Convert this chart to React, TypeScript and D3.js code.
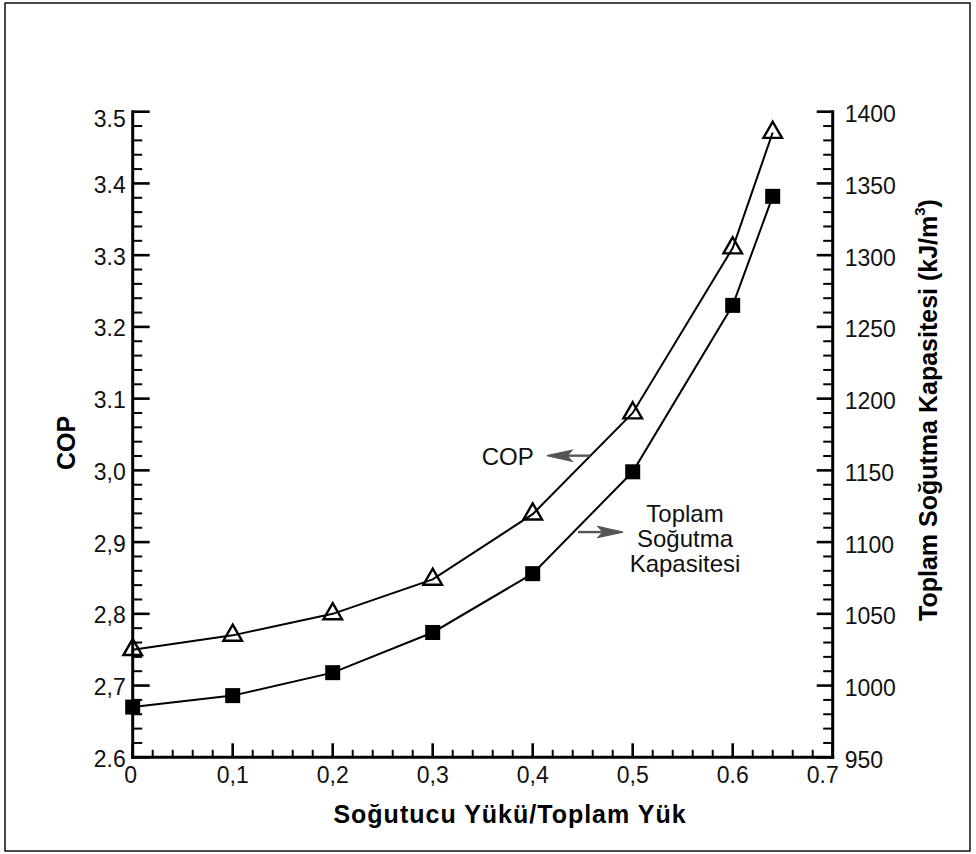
import React from "react";
import * as d3 from "d3";

const loadRatio = [0, 0.1, 0.2, 0.3, 0.4, 0.5, 0.6, 0.64];
const copValues = [2.75, 2.77, 2.8, 2.848, 2.939, 3.08, 3.31, 3.471];
const capacityValues = [985, 993, 1009, 1037, 1078, 1149, 1265, 1341];

const xTickValues = [0, 0.1, 0.2, 0.3, 0.4, 0.5, 0.6, 0.7];
const xTickLabels = ["0", "0,1", "0,2", "0,3", "0,4", "0,5", "0.6", "0.7"];
const yLeftTickValues = [2.6, 2.7, 2.8, 2.9, 3.0, 3.1, 3.2, 3.3, 3.4, 3.5];
const yLeftTickLabels = ["2.6", "2,7", "2,8", "2,9", "3,0", "3.1", "3.2", "3.3", "3.4", "3.5"];
const yRightTickValues = [950, 1000, 1050, 1100, 1150, 1200, 1250, 1300, 1350, 1400];
const yRightTickLabels = ["950", "1000", "1050", "1100", "1150", "1200", "1250", "1300", "1350", "1400"];

const xTitle = "Soğutucu Yükü/Toplam Yük";
const yLeftTitle = "COP";
const yRightTitle = "Toplam Soğutma Kapasitesi (kJ/m";
const copNote = "COP";
const capNoteLines = ["Toplam", "Soğutma", "Kapasitesi"];

const W = 976;
const H = 854;
const left = 132.7;
const right = 832.7;
const top = 111.7;
const bottom = 757.3;
const FONT = "'Liberation Sans', Arial, Helvetica, sans-serif";

export default function App() {
  const x = d3.scaleLinear().domain([0, 0.7]).range([left, right]);
  const yL = d3.scaleLinear().domain([2.6, 3.5]).range([bottom, top]);
  const yR = d3.scaleLinear().domain([950, 1400]).range([bottom, top]);

  const copLine = d3
    .line<number>()
    .x((_, i) => x(loadRatio[i]))
    .y((d) => yL(d));
  const capLine = d3
    .line<number>()
    .x((_, i) => x(loadRatio[i]))
    .y((d) => yR(d));

  const xMinor = d3.range(0, 0.7001, 0.02).filter((v) => Math.abs(v * 10 - Math.round(v * 10)) > 1e-6);
  const yLMinor = d3.range(2.6, 3.5001, 0.02).filter((v) => Math.abs(v * 10 - Math.round(v * 10)) > 1e-6);
  const yRMinor = d3.range(950, 1400.01, 10).filter((v) => v % 50 !== 0);

  const tri = d3.symbol().type(d3.symbolTriangle).size(150)();
  const gray = "#555";

  const arrowHead = (tipX: number, tipY: number, dir: number) => {
    const L = 25;
    const hw = 5.5;
    const back = 20;
    return `M${tipX},${tipY} L${tipX - dir * L},${tipY - hw} L${tipX - dir * back},${tipY} L${tipX - dir * L},${tipY + hw} Z`;
  };

  const copArrowTip = { x: x(0.4143), y: yL(3.0205) };
  const copArrowTail = { x: x(0.4573), y: yL(3.0205) };
  const capArrowTip = { x: x(0.4903), y: yL(2.914) };
  const capArrowTail = { x: x(0.4453), y: yL(2.914) };

  return (
    <svg
      width={W}
      height={H}
      style={{ position: "absolute", left: 0, top: 0, background: "#fff" }}
      fontFamily={FONT}
    >
      <rect x={0} y={0} width={W} height={H} fill="#fff" />
      <rect x={5} y={3} width={965} height={848} fill="none" stroke="#000" strokeWidth={1.4} />

      {/* x axis */}
      <line x1={left - 1.5} x2={right + 1.5} y1={bottom} y2={bottom} stroke="#000" strokeWidth={3} />
      {xTickValues.map((v) => (
        <line key={"xM" + v} x1={x(v)} x2={x(v)} y1={bottom} y2={bottom - 14} stroke="#000" strokeWidth={2.6} />
      ))}
      {xMinor.map((v) => (
        <line key={"xm" + v} x1={x(v)} x2={x(v)} y1={bottom} y2={bottom - 7.5} stroke="#000" strokeWidth={2} />
      ))}
      {xTickValues.map((v, i) => (
        <text
          key={"xl" + v}
          x={x(v) + (i === xTickValues.length - 1 ? -10 : 0) + (i === 0 ? -2 : 0)}
          y={bottom + 26}
          fontSize={23}
          textAnchor="middle"
          fill="#111"
        >
          {xTickLabels[i]}
        </text>
      ))}

      {/* left axis */}
      <line x1={left} x2={left} y1={top - 1.5} y2={bottom + 1.5} stroke="#000" strokeWidth={3} />
      {yLeftTickValues.map((v) => (
        <line key={"lM" + v} x1={left} x2={left + 17} y1={yL(v)} y2={yL(v)} stroke="#000" strokeWidth={2.6} />
      ))}
      {yLMinor.map((v) => (
        <line key={"lm" + v} x1={left} x2={left + 9.5} y1={yL(v)} y2={yL(v)} stroke="#000" strokeWidth={2} />
      ))}
      {yLeftTickValues.map((v, i) => (
        <text
          key={"ll" + v}
          x={left - 7}
          y={yL(v) + 9.5 + (i === yLeftTickValues.length - 1 ? 6 : 0)}
          fontSize={23}
          textAnchor="end"
          fill="#111"
        >
          {yLeftTickLabels[i]}
        </text>
      ))}

      {/* right axis */}
      <line x1={right} x2={right} y1={top - 1.5} y2={bottom + 1.5} stroke="#000" strokeWidth={3} />
      {yRightTickValues.map((v) => (
        <line key={"rM" + v} x1={right} x2={right - 16} y1={yR(v)} y2={yR(v)} stroke="#000" strokeWidth={2.6} />
      ))}
      {yRMinor.map((v) => (
        <line key={"rm" + v} x1={right} x2={right - 9.5} y1={yR(v)} y2={yR(v)} stroke="#000" strokeWidth={2} />
      ))}
      {yRightTickValues.map((v, i) => (
        <text key={"rl" + v} x={right + 12} y={yR(v) + 10.5} fontSize={23} textAnchor="start" fill="#111">
          {yRightTickLabels[i]}
        </text>
      ))}

      {/* titles */}
      <text x={510} y={823} fontSize={25} fontWeight="bold" textAnchor="middle" letterSpacing={1} fill="#000">
        {xTitle}
      </text>
      <text
        transform="translate(75,443) rotate(-90)"
        fontSize={25}
        fontWeight="bold"
        textAnchor="middle"
        fill="#000"
      >
        {yLeftTitle}
      </text>
      <text
        transform="translate(937,410) rotate(-90)"
        fontSize={25}
        fontWeight="bold"
        textAnchor="middle"
        fill="#000"
      >
        {yRightTitle}
        <tspan fontSize={15} dy={-12}>
          3
        </tspan>
        <tspan dy={12}>)</tspan>
      </text>

      {/* curves */}
      <path d={copLine(copValues) || ""} fill="none" stroke="#000" strokeWidth={2} />
      <path d={capLine(capacityValues) || ""} fill="none" stroke="#000" strokeWidth={2} />

      {copValues.map((v, i) => (
        <path
          key={"t" + i}
          d={tri || ""}
          transform={`translate(${x(loadRatio[i])},${yL(v)})`}
          fill="none"
          stroke="#000"
          strokeWidth={2.4}
        />
      ))}
      {capacityValues.map((v, i) => (
        <rect key={"s" + i} x={x(loadRatio[i]) - 7.5} y={yR(v) - 7.5} width={15} height={15} fill="#000" />
      ))}

      {/* annotations */}
      <text x={x(0.349)} y={yL(3.0075)} fontSize={24} fill="#111">
        {copNote}
      </text>
      <line
        x1={copArrowTail.x}
        y1={copArrowTail.y}
        x2={copArrowTip.x + 18}
        y2={copArrowTip.y}
        stroke={gray}
        strokeWidth={2.4}
      />
      <path d={arrowHead(copArrowTip.x, copArrowTip.y, -1)} fill={gray} stroke={gray} strokeWidth={1.2} />

      <line
        x1={capArrowTail.x}
        y1={capArrowTail.y}
        x2={capArrowTip.x - 18}
        y2={capArrowTip.y}
        stroke={gray}
        strokeWidth={2.4}
      />
      <path d={arrowHead(capArrowTip.x, capArrowTip.y, 1)} fill={gray} stroke={gray} strokeWidth={1.2} />

      {capNoteLines.map((t, i) => (
        <text key={"cn" + i} x={x(0.5523)} y={yL(2.9285) + i * 25} fontSize={24} textAnchor="middle" fill="#111">
          {t}
        </text>
      ))}
    </svg>
  );
}
